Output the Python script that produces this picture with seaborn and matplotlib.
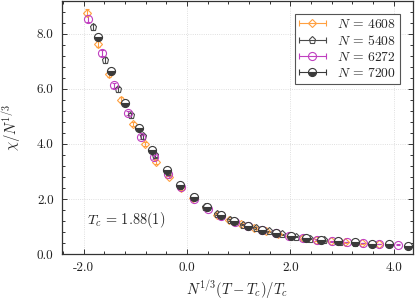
import matplotlib as mpl
import matplotlib.pyplot as plt
import seaborn as sns
from matplotlib.legend_handler import HandlerLine2D, HandlerTuple
from matplotlib.lines import Line2D
from matplotlib.ticker import FormatStrFormatter, MultipleLocator

# N = 4608
x_4608 = [-1.94, -1.73, -1.51, -1.28, -1.05, -0.81, -0.59, -0.34, -0.11, 0.12, 0.36, 0.59,
          0.82, 1.05, 1.29, 1.52, 1.76, 2.00, 2.25, 2.50, 2.78, 3.06, 3.38, 3.72]
y_4608 = [8.76, 7.61, 6.52, 5.60, 4.71, 3.99, 3.34, 2.80, 2.38, 2.02, 1.69, 1.43,
          1.23, 1.08, 0.95, 0.83, 0.73, 0.64, 0.57, 0.51, 0.46, 0.42, 0.39, 0.36]
e_4608 = [0.12, 0.11, 0.10, 0.09, 0.08, 0.07, 0.06, 0.05, 0.05, 0.04, 0.04, 0.03,
          0.03, 0.03, 0.02, 0.02, 0.02, 0.02, 0.02, 0.02, 0.01, 0.01, 0.01, 0.01]

# N = 5408
x_5408 = [-1.81, -1.58, -1.34, -1.09, -0.85, -0.61, -0.37, -0.13, 0.11, 0.35, 0.59, 0.83,
          1.08, 1.33, 1.58, 1.84, 2.10, 2.37, 2.65, 2.95, 3.25, 3.57, 3.90]
y_5408 = [8.24, 7.03, 5.98, 5.04, 4.27, 3.60, 2.98, 2.48, 2.06, 1.72, 1.45, 1.24,
          1.07, 0.94, 0.82, 0.72, 0.63, 0.56, 0.50, 0.45, 0.41, 0.38, 0.35]
e_5408 = [0.12, 0.11, 0.10, 0.09, 0.08, 0.07, 0.06, 0.05, 0.05, 0.04, 0.04, 0.03,
          0.03, 0.03, 0.02, 0.02, 0.02, 0.02, 0.02, 0.01, 0.01, 0.01, 0.01]

# N = 6272
x_6272 = [-1.91, -1.65, -1.41, -1.15, -0.88, -0.64, -0.36, -0.12, 0.14, 0.40, 0.66, 0.92,
          1.18, 1.45, 1.72, 1.98, 2.25, 2.52, 2.80, 3.10, 3.40, 3.72, 4.09]
y_6272 = [8.54, 7.29, 6.12, 5.12, 4.25, 3.53, 2.90, 2.44, 2.00, 1.65, 1.38, 1.16,
          1.00, 0.87, 0.76, 0.66, 0.58, 0.52, 0.47, 0.43, 0.40, 0.37, 0.34]
e_6272 = [0.12, 0.11, 0.10, 0.09, 0.08, 0.07, 0.06, 0.05, 0.05, 0.04, 0.04, 0.03,
          0.03, 0.03, 0.02, 0.02, 0.02, 0.02, 0.02, 0.01, 0.01, 0.01, 0.01]

# N = 7200
x_7200 = [-1.73, -1.47, -1.20, -0.93, -0.67, -0.39, -0.14, 0.13, 0.39, 0.65, 0.91,
          1.18, 1.45, 1.73, 2.01, 2.30, 2.60, 2.92, 3.25, 3.58, 3.90, 4.28]
y_7200 = [7.87, 6.63, 5.50, 4.58, 3.77, 3.04, 2.52, 2.06, 1.70, 1.41, 1.19,
          1.02, 0.89, 0.77, 0.67, 0.59, 0.52, 0.46, 0.42, 0.38, 0.35, 0.30]
e_7200 = [0.11, 0.10, 0.09, 0.08, 0.07, 0.06, 0.05, 0.05, 0.04, 0.04, 0.03,
          0.03, 0.03, 0.02, 0.02, 0.02, 0.02, 0.02, 0.01, 0.01, 0.01, 0.01]

labels = [r"$N\,=\,4608$", r"$N\,=\,5408$", r"$N\,=\,6272$", r"$N\,=\,7200$"]
tc_text = r"$T_c\,=\,1.88(1)$"


def configure_style() -> None:
    sns.set_theme(style="ticks")
    mpl.rcParams.update(
        {
            "font.family": "serif",
            "font.serif": ["cmr10", "DejaVu Serif"],
            "mathtext.fontset": "cm",
            "axes.unicode_minus": False,
            "axes.formatter.use_mathtext": True,
            "axes.linewidth": 0.9,
            "axes.edgecolor": "#333333",
            "xtick.color": "#333333",
            "ytick.color": "#333333",
            "xtick.labelcolor": "#222222",
            "ytick.labelcolor": "#222222",
            "font.size": 9,
        }
    )


def main() -> None:
    configure_style()
    fig = plt.figure(figsize=(4.15, 3.01), dpi=100)
    ax = fig.add_axes([0.149, 0.156, 0.846, 0.842])

    series = [
        (x_4608, y_4608, e_4608, dict(marker="D", color="#ffa040", ms=4.2, mfc="none", fillstyle="full")),
        (x_5408, y_5408, e_5408, dict(marker="p", color="#4a4a4a", ms=5.2, mfc="none", fillstyle="full")),
        (x_6272, y_6272, e_6272, dict(marker="o", color="#c040c0", ms=5.8, mfc="none", fillstyle="full")),
        (x_7200, y_7200, e_7200, dict(marker="o", color="#3a3a3a", ms=5.8, mfc="#3a3a3a",
                                      fillstyle="bottom", markerfacecoloralt="white")),
    ]

    handles = []
    hmap = {}
    for (x, y, e, st), lab in zip(series, labels):
        ax.errorbar(
            x, y, yerr=e, linestyle="none", marker=st["marker"], ms=st["ms"],
            mec=st["color"], mfc=st["mfc"], mew=0.8, ecolor=st["color"], elinewidth=0.8,
            capsize=1.5, fillstyle=st["fillstyle"],
            markerfacecoloralt=st.get("markerfacecoloralt", "none"), zorder=3,
        )
        cap = Line2D([], [], color=st["color"], lw=0.8, marker="|", ms=5, mew=0.8)
        mk = Line2D([], [], linestyle="none", marker=st["marker"], ms=st["ms"],
                    mec=st["color"], mfc=st["mfc"], mew=0.8, fillstyle=st["fillstyle"],
                    markerfacecoloralt=st.get("markerfacecoloralt", "none"))
        hmap[cap] = HandlerLine2D(numpoints=2, marker_pad=0)
        hmap[mk] = HandlerLine2D(numpoints=1)
        handles.append((cap, mk))

    hmap[tuple] = HandlerTuple(ndivide=1)
    leg = ax.legend(
        handles, labels, handler_map=hmap, loc="upper right",
        bbox_to_anchor=(0.963, 0.949), borderaxespad=0, fontsize=9.8,
        frameon=True, fancybox=False, edgecolor="#555555", framealpha=1,
        handlelength=2.0, handletextpad=0.8, labelspacing=0.22, borderpad=0.3,
    )
    leg.get_frame().set_linewidth(0.8)

    ax.set_xlim(-2.42, 4.37)
    ax.set_ylim(0.0, 9.2)
    ax.xaxis.set_major_locator(MultipleLocator(2.0))
    ax.xaxis.set_minor_locator(MultipleLocator(0.4))
    ax.yaxis.set_major_locator(MultipleLocator(2.0))
    ax.yaxis.set_minor_locator(MultipleLocator(0.4))
    ax.xaxis.set_major_formatter(FormatStrFormatter("%.1f"))
    ax.yaxis.set_major_formatter(FormatStrFormatter("%.1f"))
    ax.tick_params(which="both", direction="in", top=True, right=True, labelsize=9.5, width=0.7)
    ax.tick_params(which="major", length=3.5, pad=6)
    ax.tick_params(which="minor", length=2)
    ax.grid(True, which="major", linestyle=":", linewidth=0.6, color="#d5d5d5")
    ax.set_axisbelow(True)

    ax.set_xlabel(r"$N^{1/3}(T-T_c)/T_c$", fontsize=10.5, labelpad=3)
    ax.set_ylabel(r"$\chi/N^{1/3}$", fontsize=10.5, labelpad=10)
    ax.text(0.071, 0.134, tc_text, transform=ax.transAxes, fontsize=10.3, va="center", ha="left")

    fig.savefig("out.png", dpi=100, facecolor="white")
    plt.close(fig)


if __name__ == "__main__":
    main()
